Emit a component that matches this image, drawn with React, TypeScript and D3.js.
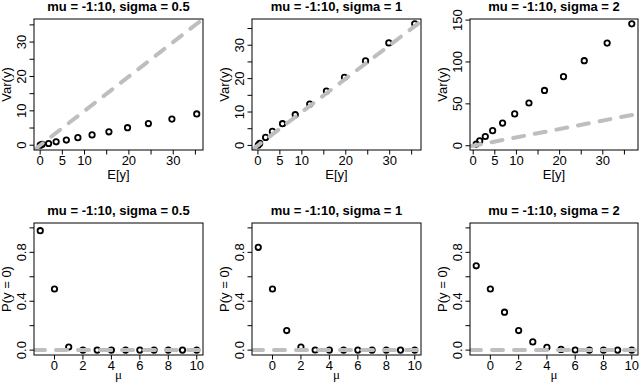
import React from 'react';
import * as d3 from 'd3';

// mu = -1:10 on every panel
const mu = [-1, 0, 1, 2, 3, 4, 5, 6, 7, 8, 9, 10];
const sigmaLabels = ['0.5', '1', '2'];

// E[y] / Var(y)
const meanS05 = [0.02, 0.45, 1.9, 3.6, 5.9, 8.5, 11.7, 15.5, 19.7, 24.4, 29.7, 35.3];
const varS05 = [0.02, 0.25, 0.5, 1.0, 1.5, 2.2, 3.0, 3.9, 5.1, 6.3, 7.6, 9.1];
const meanS1 = [0.08, 0.4, 1.75, 3.3, 5.6, 8.5, 11.8, 15.6, 19.7, 24.5, 29.8, 35.7];
const varS1 = [0.1, 0.6, 2.4, 4.2, 6.5, 9.2, 12.4, 16.3, 20.4, 25.3, 30.7, 36.4];
const meanS2 = [0.7, 1.5, 2.8, 4.5, 6.8, 9.6, 12.9, 16.5, 20.9, 25.7, 31.0, 36.7];
const varS2 = [2.0, 5.8, 11.0, 18.0, 27.0, 38.0, 51.0, 66.0, 82.5, 101.5, 122.5, 145.5];

// P(y = 0), bottom row
const p0S05 = [0.977, 0.5, 0.025, 0, 0, 0, 0, 0, 0, 0, 0, 0];
const p0S1 = [0.841, 0.5, 0.16, 0.025, 0.001, 0, 0, 0, 0, 0, 0, 0];
const p0S2 = [0.69, 0.5, 0.31, 0.16, 0.067, 0.023, 0.006, 0.001, 0, 0, 0, 0];

// ticks (R drops labels that would overlap, hence the blanks)
const meanTicks = [0, 5, 10, 15, 20, 25, 30, 35];
const meanTickLabels = ['0', '5', '10', '', '20', '', '30', ''];
const varTicks = [0, 5, 10, 15, 20, 25, 30, 35];
const varTickLabels = ['0', '', '10', '', '20', '', '30', ''];
const varTicksBig = [0, 50, 100, 150];
const varTickLabelsBig = ['0', '50', '100', '150'];
const muTicks = [0, 2, 4, 6, 8, 10];
const muTickLabels = ['0', '2', '4', '6', '8', '10'];
const pTicks = [0, 0.2, 0.4, 0.6, 0.8, 1];
const pTickLabels = ['0.0', '', '0.4', '', '0.8', ''];

const FONT = 'Liberation Sans, Arial, Helvetica, sans-serif';
const GREY = '#bebebe';
const LABEL_SIZE = 13;

// R style axis range: data range stretched by 4% each side
const pad = (ext: number[]) => {
    const d = ext[1] - ext[0];
    return [ext[0] - 0.04 * d, ext[1] + 0.04 * d];
};

type PanelProps = {
    id: string;
    x0: number; y0: number; w: number; h: number;
    title: string;
    xTitle: string; yTitle: string;
    xTitleOffset: number;
    xTitleSerif?: boolean;
    xs: number[]; ys: number[];
    xDomain: number[]; yDomain: number[];
    xTicks: number[]; xTickLabels: string[];
    yTicks: number[]; yTickLabels: string[];
    refLine: 'identity' | 'zero';
};

const Panel = (p: PanelProps) => {
    const x = d3.scaleLinear().domain(p.xDomain).range([p.x0, p.x0 + p.w]);
    const y = d3.scaleLinear().domain(p.yDomain).range([p.y0 + p.h, p.y0]);
    const y1 = p.y0 + p.h;

    const ref = p.refLine === 'identity'
        ? d3.line<number>().x(d => x(d)).y(d => y(d))([p.xDomain[0], p.xDomain[1]])
        : d3.line<number>().x(d => x(d)).y(() => y(0))([p.xDomain[0], p.xDomain[1]]);

    return (
        <g>
            <defs>
                <clipPath id={p.id}>
                    <rect x={p.x0} y={p.y0} width={p.w} height={p.h} />
                </clipPath>
            </defs>

            <text x={p.x0 + p.w / 2} y={p.y0 - 8.5} textAnchor="middle"
                fontFamily={FONT} fontWeight="bold" fontSize={13}>{p.title}</text>

            {p.xs.map((d, i) => (
                <circle key={i} cx={x(d)} cy={y(p.ys[i])} r={2.7}
                    fill="none" stroke="#000" strokeWidth={1.8} />
            ))}

            <path d={ref ?? ''} clipPath={`url(#${p.id})`} fill="none" stroke={GREY}
                strokeWidth={4} strokeDasharray="11 11" strokeLinecap="round" />

            <rect x={p.x0} y={p.y0} width={p.w} height={p.h} fill="none" stroke="#000" strokeWidth={1} />

            {/* bottom axis */}
            {p.xTicks.map((t, i) => (
                <g key={`xt${i}`}>
                    <line x1={x(t)} x2={x(t)} y1={y1} y2={y1 + 4.5} stroke="#000" />
                    {p.xTickLabels[i] && (
                        <text x={x(t)} y={y1 + 14.5} textAnchor="middle" fontFamily={FONT}
                            fontSize={LABEL_SIZE}>{p.xTickLabels[i]}</text>
                    )}
                </g>
            ))}
            <text x={p.x0 + p.w / 2} y={y1 + p.xTitleOffset} textAnchor="middle"
                fontFamily={p.xTitleSerif ? 'Liberation Serif, DejaVu Serif, serif' : FONT}
                fontSize={LABEL_SIZE}>{p.xTitle}</text>

            {/* left axis */}
            {p.yTicks.map((t, i) => (
                <g key={`yt${i}`}>
                    <line x1={p.x0 - 4.5} x2={p.x0} y1={y(t)} y2={y(t)} stroke="#000" />
                    {p.yTickLabels[i] && (
                        <text transform={`translate(${p.x0 - 8.5},${y(t)}) rotate(-90)`}
                            textAnchor="middle" fontFamily={FONT} fontSize={LABEL_SIZE}>{p.yTickLabels[i]}</text>
                    )}
                </g>
            ))}
            <text transform={`translate(${p.x0 - 23.5},${p.y0 + p.h / 2}) rotate(-90)`}
                textAnchor="middle" fontFamily={FONT} fontSize={LABEL_SIZE}>{p.yTitle}</text>
        </g>
    );
};

const App = () => {
    const width = 640;
    const height = 384;
    const lefts = [34, 252, 470];
    const widths = [169, 169, 168];
    const topRow = { y0: 19, h: 131 };
    const bottomRow = { y0: 223, h: 132 };

    const means = [meanS05, meanS1, meanS2];
    const vars = [varS05, varS1, varS2];
    const p0s = [p0S05, p0S1, p0S2];

    return (
        <svg width={width} height={height} viewBox={`0 0 ${width} ${height}`}
            style={{ position: 'absolute', left: 0, top: 0, background: '#fff' }}>
            <rect width={width} height={height} fill="#fff" />
            {sigmaLabels.map((s, k) => {
                const m = means[k];
                const v = vars[k];
                const both = d3.extent([...m, ...v]) as number[];
                const big = k === 2;
                return (
                    <Panel key={`top${k}`} id={`clipTop${k}`}
                        x0={lefts[k]} y0={topRow.y0} w={widths[k]} h={topRow.h}
                        title={`mu = -1:10, sigma = ${s}`}
                        xTitle="E[y]" yTitle="Var(y)" xTitleOffset={29}
                        xs={m} ys={v}
                        xDomain={pad(d3.extent(m) as number[])} yDomain={pad(both)}
                        xTicks={meanTicks} xTickLabels={meanTickLabels}
                        yTicks={big ? varTicksBig : varTicks}
                        yTickLabels={big ? varTickLabelsBig : varTickLabels}
                        refLine="identity" />
                );
            })}
            {sigmaLabels.map((s, k) => (
                <Panel key={`bot${k}`} id={`clipBot${k}`}
                    x0={lefts[k]} y0={bottomRow.y0} w={widths[k]} h={bottomRow.h}
                    title={`mu = -1:10, sigma = ${s}`}
                    xTitle="μ" xTitleSerif yTitle="P(y = 0)" xTitleOffset={24}
                    xs={mu} ys={p0s[k]}
                    xDomain={pad(d3.extent(mu) as number[])} yDomain={pad([0, 1])}
                    xTicks={muTicks} xTickLabels={muTickLabels}
                    yTicks={pTicks} yTickLabels={pTickLabels}
                    refLine="zero" />
            ))}
        </svg>
    );
};

export default App;
